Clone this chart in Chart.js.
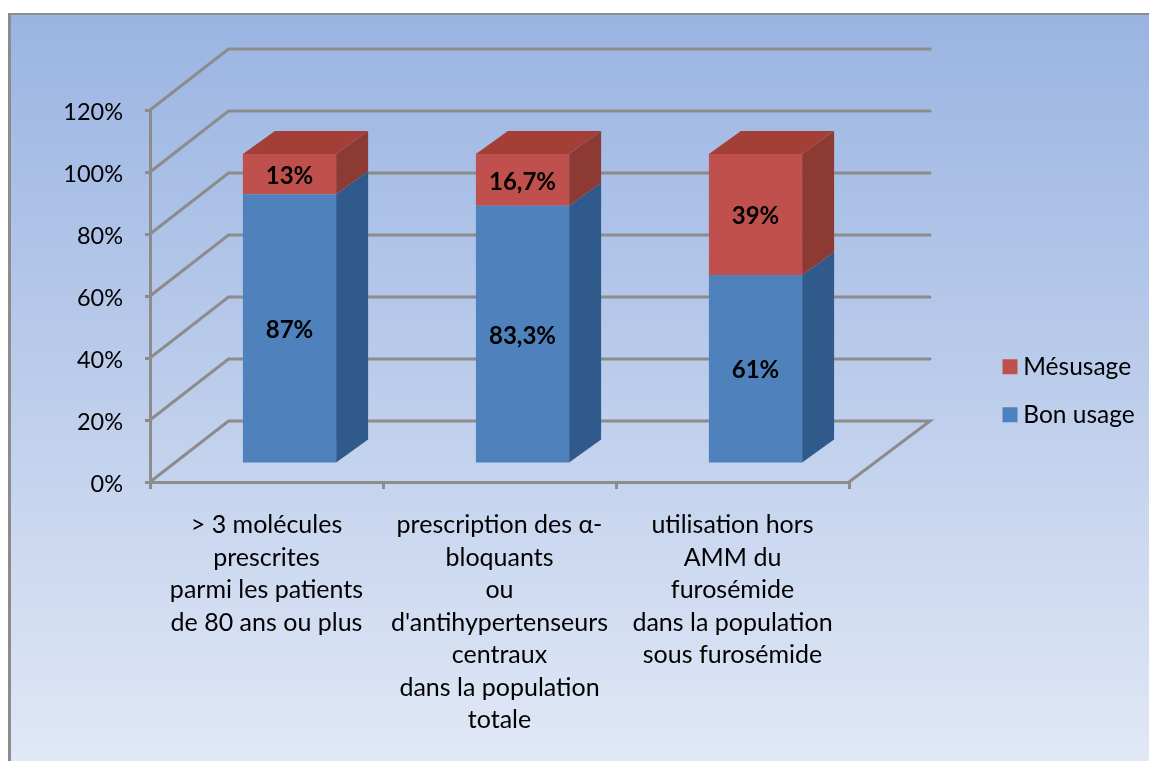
<!DOCTYPE html>
<html>
<head>
<meta charset="utf-8">
<style>html,body{margin:0;padding:0;background:#fff}canvas{display:block}</style>
<script src="https://cdn.jsdelivr.net/npm/chart.js@4/dist/chart.umd.min.js"></script>
</head>
<body>
<canvas id="c" width="1149" height="761"></canvas>
<script>
const categories = [
  ["> 3 molécules", "prescrites", "parmi les patients", "de 80 ans ou plus"],
  ["prescription des α-", "bloquants", "ou", "d'antihypertenseurs", "centraux", "dans la population", "totale"],
  ["utilisation hors", "AMM du", "furosémide", "dans la population", "sous furosémide"]
];
const bonUsage = [87, 83.3, 61];
const mesusage = [13, 16.7, 39];
const yMax = 120;
const yStep = 20;

const FONT = 'Lato, Carlito, Calibri, sans-serif';
const GRID = '#8c8c8c';
const frontBlue = '#4f81bd', sideBlue = '#315a8c', frontRed = '#c0504d', sideRed = '#8c3a33', topRed = '#a43f38';
const bar3d = {dx: 23, dy: -18, sx: 32, sy: -23};
const wall = {dxL: 78.5, dxR: 81, dy: -61};

function poly(ctx, pts, fill){
  ctx.beginPath();
  pts.forEach((p,i)=> i?ctx.lineTo(p[0],p[1]):ctx.moveTo(p[0],p[1]));
  ctx.closePath(); ctx.fillStyle = fill; ctx.fill();
}

const scene = {
  id: 'scene',
  beforeDraw(chart){
    const {ctx, width, height} = chart;
    ctx.save();
    ctx.fillStyle = '#fff'; ctx.fillRect(0,0,width,height);
    const g = ctx.createLinearGradient(0,14,0,761);
    g.addColorStop(0,'#9ab4e2'); g.addColorStop(0.5,'#bccdeb'); g.addColorStop(1,'#e1e8f6');
    ctx.fillStyle = g; ctx.fillRect(9,14,width-9,height-14);
    ctx.fillStyle = '#8c8c8c';
    ctx.fillRect(8,13,width-8,2); ctx.fillRect(8,13,3,height-13);
    ctx.restore();
  },
  afterLayout(chart){
    const l = chart.legend;
    l.left = 985.5; l.right = 1149; l.top = 331; l.bottom = 540;
    l.width = 163.5; l.height = 209;
  },
  beforeDatasetsDraw(chart){
    const {ctx, chartArea:a, scales:{y}} = chart;
    ctx.save();
    ctx.strokeStyle = GRID; ctx.lineWidth = 3; ctx.lineCap = 'round'; ctx.lineJoin = 'miter';
    for(let v=0; v<=yMax; v+=yStep){
      const py = y.getPixelForValue(v);
      ctx.beginPath();
      ctx.moveTo(a.left, py);
      ctx.lineTo(a.left+wall.dxL, py+wall.dy);
      ctx.lineTo(a.right+wall.dxR, py+wall.dy);
      if(v===0) ctx.lineTo(a.right, py);
      ctx.stroke();
    }
    const blue = chart.getDatasetMeta(0).data, red = chart.getDatasetMeta(1).data;
    const {dx,dy,sx,sy} = bar3d;
    blue.forEach((b,i)=>{
      const r = red[i];
      const R = b.x + b.width/2 + dx, L = b.x - b.width/2 + dx;
      const y0 = b.base+dy, y1 = b.y+dy, y2 = r.y+dy;
      poly(ctx, [[R,y0],[R+sx,y0+sy],[R+sx,y1+sy],[R,y1]], sideBlue);
      poly(ctx, [[R,y1],[R+sx,y1+sy],[R+sx,y2+sy],[R,y2]], sideRed);
      poly(ctx, [[L,y2],[L+sx,y2+sy],[R+sx,y2+sy],[R,y2]], topRed);
    });
    ctx.restore();
    ctx.save();
    ctx.translate(dx,dy);
  },
  afterDatasetsDraw(chart){
    const {ctx} = chart;
    ctx.restore();
    ctx.save();
    ctx.fillStyle = '#000';
    ctx.font = 'bold 24px '+FONT;
    ctx.textAlign = 'center'; ctx.textBaseline = 'middle';
    chart.data.datasets.forEach((ds,d)=>{
      chart.getDatasetMeta(d).data.forEach((el,i)=>{
        const txt = String(ds.data[i]).replace('.',',')+'%';
        ctx.fillText(txt, el.x+bar3d.dx, (el.y+el.base)/2+bar3d.dy+2);
      });
    });
    ctx.restore();
  }
};

new Chart(document.getElementById('c'), {
  type: 'bar',
  data: {
    labels: categories,
    datasets: [
      {label:'Bon usage', data:bonUsage, backgroundColor:frontBlue, borderWidth:0, clip:false},
      {label:'Mésusage', data:mesusage, backgroundColor:frontRed, borderWidth:0, clip:false}
    ]
  },
  options: {
    responsive:false, animation:false, devicePixelRatio:1,
    layout:{padding:{top:110,left:0,right:300,bottom:0}},
    events:[],
    datasets:{bar:{categoryPercentage:1, barPercentage:0.4}},
    plugins:{
      tooltip:{enabled:false},
      legend:{
        display:true, position:'chartArea', reverse:true, align:'start',
        labels:{color:'#000', font:{family:FONT,size:24.5}, usePointStyle:true, pointStyle:'rect', boxWidth:2, boxHeight:15, padding:23.5}
      }
    },
    scales:{
      x:{
        stacked:true,
        grid:{drawOnChartArea:false, tickLength:7, color:GRID, lineWidth:3, offset:true},
        border:{color:GRID, width:3},
        ticks:{color:'#000', font:{family:FONT,size:25,lineHeight:1.3}, padding:20, maxRotation:0, minRotation:0, autoSkip:false},
        afterFit(s){ s.height = 279; s.paddingLeft = 0; s.paddingRight = 0; }
      },
      y:{
        stacked:true, min:0, max:yMax,
        grid:{drawOnChartArea:false, tickLength:5, color:GRID, lineWidth:3},
        border:{color:GRID, width:3},
        ticks:{stepSize:yStep, color:'#000', font:{family:FONT,size:23.5}, padding:22, labelOffset:2, callback:v=>v+'%'},
        afterFit(s){ s.width = 150; s.paddingTop = 0; s.paddingBottom = 0; }
      }
    }
  },
  plugins:[scene]
});
</script>
</body>
</html>
